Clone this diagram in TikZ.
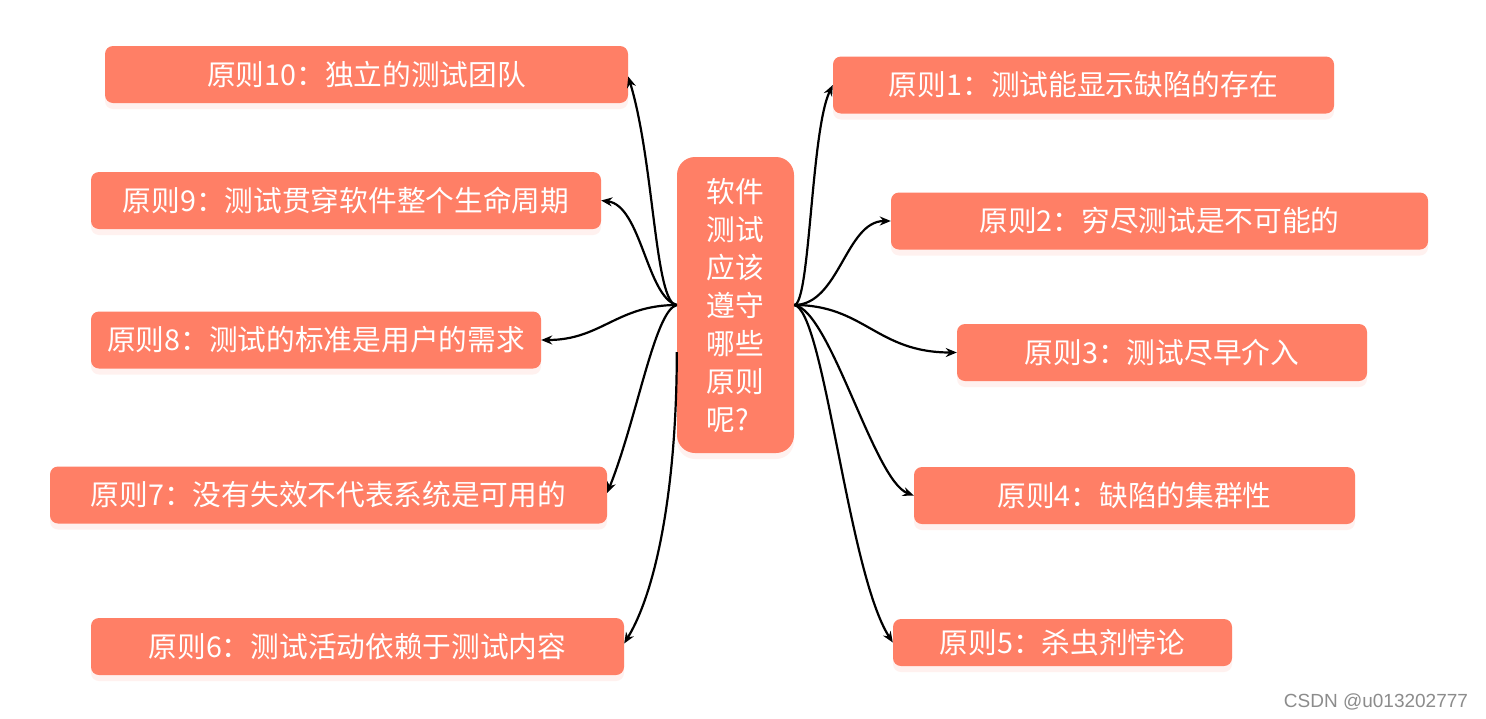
\documentclass[tikz,border=0pt]{standalone}
\usepackage{fontspec}
\setmainfont{Noto Sans CJK SC}
\newfontfamily\markfont{Liberation Sans}
\usepackage{tikz}
\usetikzlibrary{arrows.meta, shadows}
\tikzset{>={Stealth[length=11pt,width=9pt]}}
\definecolor{salmon}{RGB}{255,127,102}
\tikzset{
  rule/.style={fill=salmon, text=white, rounded corners=8pt, minimum height=57pt,
    inner sep=0pt, font=\fontsize{28.7}{38}\selectfont,
    drop shadow={shadow xshift=0pt, shadow yshift=-6pt, opacity=0.15, fill=salmon!70}},
  link/.style={->, line width=2.2pt}
}

\begin{document}
\begin{tikzpicture}[x=1pt,y=-1pt]
  \fill[white] (0,0) rectangle (1486,718);
  % question in the middle
  \node[rule, rounded corners=18pt, minimum width=117pt, minimum height=296pt, align=left] (ask) at (735.5,305)
    {软件\\测试\\应该\\遵守\\哪些\\原则\\呢?};
  % left column
  \node[rule, minimum width=523pt] (p10) at (366.5,74.5) {原则10：独立的测试团队};
  \node[rule, minimum width=510pt] (p9) at (346,200.5) {原则9：测试贯穿软件整个生命周期};
  \node[rule, minimum width=450pt] (p8) at (316,340) {原则8：测试的标准是用户的需求};
  \node[rule, minimum width=557pt] (p7) at (328.5,495) {原则7：没有失效不代表系统是可用的};
  \node[rule, minimum width=533pt] (p6) at (357.5,646.5) {原则6：测试活动依赖于测试内容};
  % right column
  \node[rule, minimum width=501pt] (p1) at (1083.5,85) {原则1：测试能显示缺陷的存在};
  \node[rule, minimum width=537pt] (p2) at (1159.5,221) {原则2：穷尽测试是不可能的};
  \node[rule, minimum width=410pt] (p3) at (1162,352.5) {原则3：测试尽早介入};
  \node[rule, minimum width=441pt] (p4) at (1134.5,495.5) {原则4：缺陷的集群性};
  \node[rule, minimum width=339pt, minimum height=47pt] (p5) at (1062.5,642.5) {原则5：杀虫剂悖论};

  % links
  \draw[link] (ask.west) .. controls +(-22,0) and +(26,85) .. ([yshift=-2pt]p10.east);
  \draw[link] (ask.west) .. controls +(-30,-8) and +(40,5) .. (p9.east);
  \draw[link] (ask.west) .. controls +(-60,0) and +(60,0) .. (p8.east);
  \draw[link] (ask.west) .. controls +(-22,5) and +(30,-75) .. ([yshift=2pt]p7.east);
  \draw[link] ([yshift=-47pt]ask.west) .. controls +(0,128) and +(34,-56) .. ([yshift=3pt]p6.east);
  \draw[link] (ask.east) .. controls +(16,0) and +(-22,45) .. (p1.west);
  \draw[link] (ask.east) .. controls +(45,0) and +(-45,0) .. (p2.west);
  \draw[link] (ask.east) .. controls +(70,0) and +(-80,0) .. (p3.west);
  \draw[link] (ask.east) .. controls +(36,5) and +(-40,-15) .. (p4.west);
  \draw[link] (ask.east) .. controls +(30,5) and +(-45,-70) .. (p5.west);

  \node[text=black!45, font=\markfont\fontsize{19}{19}\selectfont] (mark) at (1376,702) {CSDN @u013202777};
\end{tikzpicture}
\end{document}
